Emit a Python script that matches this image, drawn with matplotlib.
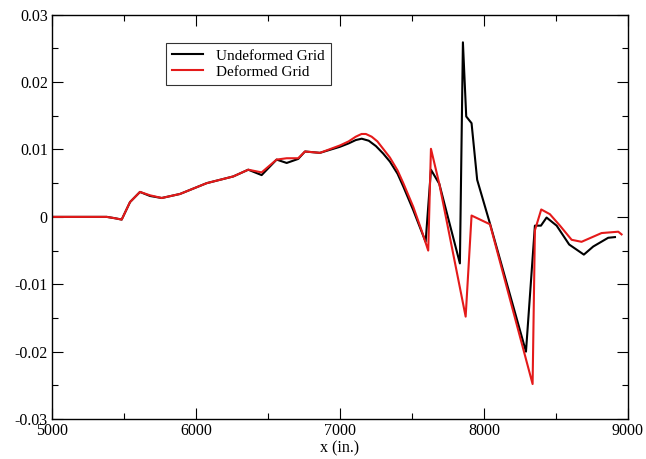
import numpy as np
import matplotlib
matplotlib.use('Agg')
import matplotlib.pyplot as plt
from matplotlib.ticker import MultipleLocator

plt.rcParams['font.family'] = ['Liberation Serif', 'DejaVu Serif']

# ==============================================================================
# data
# ==============================================================================
x_undef = [5000, 5380, 5437, 5484, 5542, 5611, 5681, 5762, 5889, 6074, 6259,
           6363, 6456, 6560, 6630, 6710, 6757, 6861, 7000, 7060, 7110, 7151,
           7200, 7250, 7300, 7347, 7400, 7440, 7509, 7560, 7595, 7632, 7690,
           7833, 7854, 7877, 7914, 7953, 8042, 8292, 8354, 8396, 8435, 8505,
           8592, 8694, 8759, 8863, 8910]
y_undef = [0.0, 0.0, -0.0002, -0.0004, 0.0022, 0.0037, 0.0031, 0.0028,
           0.0034, 0.0050, 0.0060, 0.0070, 0.0062, 0.0085, 0.0080, 0.0086,
           0.0097, 0.0095, 0.0104, 0.0109, 0.0114, 0.0116, 0.0113, 0.0105,
           0.0094, 0.0082, 0.0064, 0.0045, 0.0010, -0.0018, -0.0037, 0.0070,
           0.0049, -0.0069, 0.0259, 0.0149, 0.0139, 0.0055, -0.0010, -0.0200,
           -0.0013, -0.0013, -0.0001, -0.0013, -0.0041, -0.0056, -0.0044,
           -0.0031, -0.0030]

x_def = [5000, 5380, 5437, 5484, 5542, 5611, 5681, 5762, 5889, 6074, 6259,
         6363, 6456, 6560, 6630, 6710, 6757, 6861, 7000, 7060, 7110, 7150,
         7180, 7220, 7260, 7300, 7347, 7400, 7440, 7509, 7570, 7613, 7632,
         7690, 7873, 7914, 8042, 8338, 8354, 8398, 8458, 8528, 8609, 8678,
         8817, 8933, 8956]
y_def = [0.0, 0.0, -0.0002, -0.0004, 0.0022, 0.0037, 0.0032, 0.0028, 0.0034,
         0.0050, 0.0060, 0.0070, 0.0066, 0.0085, 0.0087, 0.0087, 0.0097,
         0.0095, 0.0106, 0.0112, 0.0119, 0.0123, 0.0123, 0.0119, 0.0112,
         0.0101, 0.0088, 0.0069, 0.0050, 0.0015, -0.0022, -0.0050, 0.0101,
         0.0049, -0.0148, 0.0002, -0.0011, -0.0248, -0.0020, 0.0011, 0.0004,
         -0.0013, -0.0034, -0.0037, -0.0024, -0.0022, -0.0026]

# ==============================================================================
# plotting
# ==============================================================================
fig = plt.figure(figsize=(6.46, 4.59), dpi=100)
ax = fig.add_axes([0.0805, 0.087, 0.8915, 0.881])

ax.plot(x_undef, y_undef, color='black', lw=1.5, label='Undeformed Grid')
ax.plot(x_def, y_def, color='#e41a1a', lw=1.5, label='Deformed Grid')

ax.set_xlim(5000, 9000)
ax.set_ylim(-0.03, 0.03)
ax.xaxis.set_major_locator(MultipleLocator(1000))
ax.xaxis.set_minor_locator(MultipleLocator(500))
ax.yaxis.set_minor_locator(MultipleLocator(0.005))
ax.set_yticks([-0.03, -0.02, -0.01, 0, 0.01, 0.02, 0.03])
ax.set_yticklabels(['-0.03', '-0.02', '-0.01', '0', '0.01', '0.02', '0.03'])

ax.tick_params(which='both', direction='in', top=True, right=True,
               labelsize=11.5, width=0.8, pad=3)
ax.tick_params(which='major', length=8)
ax.tick_params(which='minor', length=4.5)
for s in ax.spines.values():
    s.set_linewidth(1.0)

ax.set_xlabel('x (in.)', fontsize=11.5, labelpad=1)

leg = ax.legend(loc='upper left', bbox_to_anchor=(0.198, 0.930),
                borderaxespad=0, fontsize=11, frameon=True, fancybox=False,
                handlelength=2.0, handletextpad=0.9, labelspacing=0.15,
                borderpad=0.4)
leg.get_frame().set_edgecolor('black')
leg.get_frame().set_linewidth(0.8)

plt.savefig('out.png', dpi=100)
